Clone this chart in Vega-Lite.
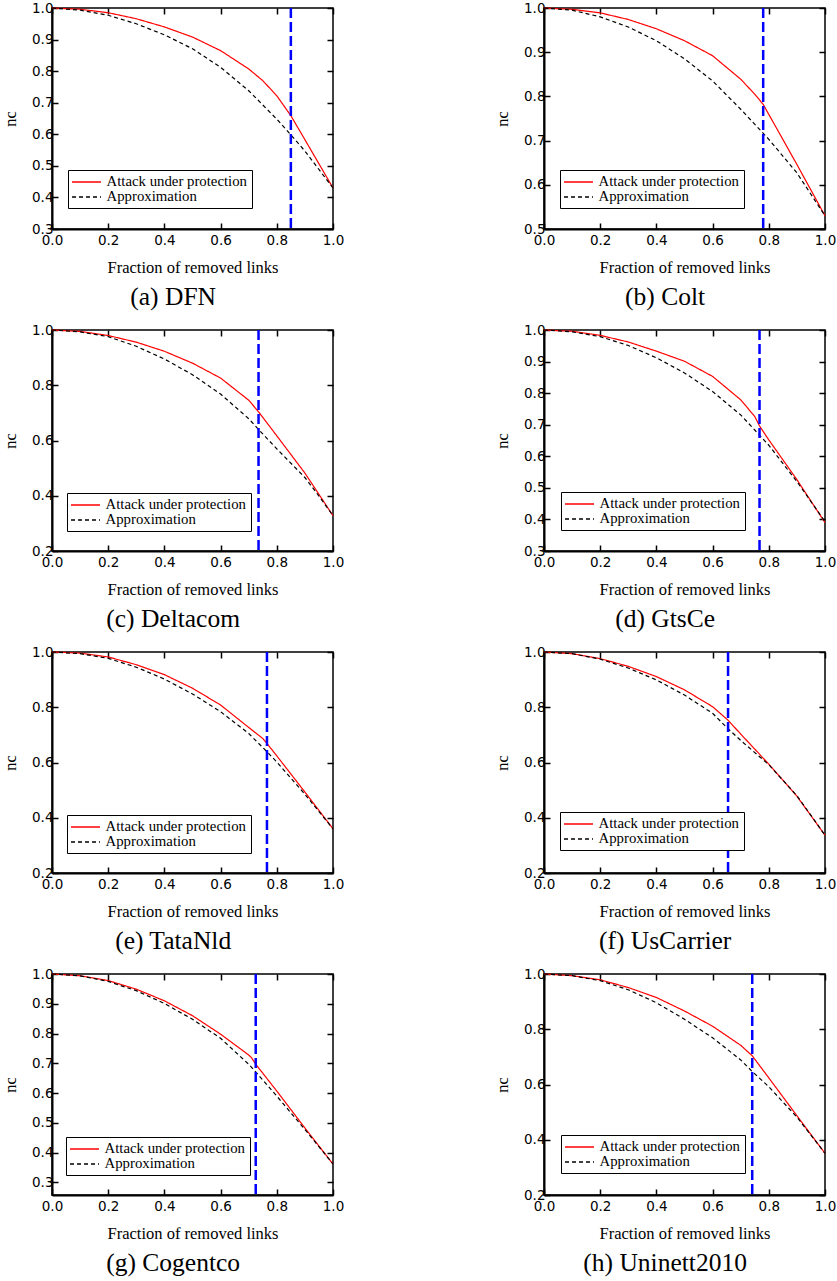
{
  "$schema": "https://vega.github.io/schema/vega-lite/v6.json",
  "padding": {"left": 1, "top": 0, "right": 0, "bottom": 0},
  "background": "white",
  "datasets": {
    "curves": [
      {"panel":"a","series":"Attack under protection","x":0,"y":1.0},
      {"panel":"a","series":"Attack under protection","x":0.1,"y":0.996},
      {"panel":"a","series":"Attack under protection","x":0.2,"y":0.985},
      {"panel":"a","series":"Attack under protection","x":0.3,"y":0.966},
      {"panel":"a","series":"Attack under protection","x":0.4,"y":0.94},
      {"panel":"a","series":"Attack under protection","x":0.5,"y":0.908},
      {"panel":"a","series":"Attack under protection","x":0.6,"y":0.865},
      {"panel":"a","series":"Attack under protection","x":0.7,"y":0.807},
      {"panel":"a","series":"Attack under protection","x":0.75,"y":0.77},
      {"panel":"a","series":"Attack under protection","x":0.8,"y":0.722},
      {"panel":"a","series":"Attack under protection","x":0.85,"y":0.659},
      {"panel":"a","series":"Attack under protection","x":0.9,"y":0.583},
      {"panel":"a","series":"Attack under protection","x":1.0,"y":0.43},
      {"panel":"a","series":"Approximation","x":0,"y":1.0},
      {"panel":"a","series":"Approximation","x":0.1,"y":0.993},
      {"panel":"a","series":"Approximation","x":0.2,"y":0.977},
      {"panel":"a","series":"Approximation","x":0.3,"y":0.95},
      {"panel":"a","series":"Approximation","x":0.4,"y":0.915},
      {"panel":"a","series":"Approximation","x":0.5,"y":0.871},
      {"panel":"a","series":"Approximation","x":0.6,"y":0.812},
      {"panel":"a","series":"Approximation","x":0.7,"y":0.738},
      {"panel":"a","series":"Approximation","x":0.8,"y":0.648},
      {"panel":"a","series":"Approximation","x":0.85,"y":0.598},
      {"panel":"a","series":"Approximation","x":0.9,"y":0.547},
      {"panel":"a","series":"Approximation","x":1.0,"y":0.43},

      {"panel":"b","series":"Attack under protection","x":0,"y":1.0},
      {"panel":"b","series":"Attack under protection","x":0.1,"y":0.997},
      {"panel":"b","series":"Attack under protection","x":0.2,"y":0.989},
      {"panel":"b","series":"Attack under protection","x":0.3,"y":0.974},
      {"panel":"b","series":"Attack under protection","x":0.4,"y":0.953},
      {"panel":"b","series":"Attack under protection","x":0.5,"y":0.926},
      {"panel":"b","series":"Attack under protection","x":0.6,"y":0.892},
      {"panel":"b","series":"Attack under protection","x":0.7,"y":0.839},
      {"panel":"b","series":"Attack under protection","x":0.75,"y":0.805},
      {"panel":"b","series":"Attack under protection","x":0.78,"y":0.782},
      {"panel":"b","series":"Attack under protection","x":0.9,"y":0.646},
      {"panel":"b","series":"Attack under protection","x":1.0,"y":0.53},
      {"panel":"b","series":"Approximation","x":0,"y":1.0},
      {"panel":"b","series":"Approximation","x":0.1,"y":0.995},
      {"panel":"b","series":"Approximation","x":0.2,"y":0.98},
      {"panel":"b","series":"Approximation","x":0.3,"y":0.957},
      {"panel":"b","series":"Approximation","x":0.4,"y":0.926},
      {"panel":"b","series":"Approximation","x":0.5,"y":0.885},
      {"panel":"b","series":"Approximation","x":0.6,"y":0.835},
      {"panel":"b","series":"Approximation","x":0.7,"y":0.771},
      {"panel":"b","series":"Approximation","x":0.8,"y":0.703},
      {"panel":"b","series":"Approximation","x":0.9,"y":0.627},
      {"panel":"b","series":"Approximation","x":1.0,"y":0.53},

      {"panel":"c","series":"Attack under protection","x":0,"y":1.0},
      {"panel":"c","series":"Attack under protection","x":0.1,"y":0.995},
      {"panel":"c","series":"Attack under protection","x":0.2,"y":0.98},
      {"panel":"c","series":"Attack under protection","x":0.3,"y":0.956},
      {"panel":"c","series":"Attack under protection","x":0.4,"y":0.923},
      {"panel":"c","series":"Attack under protection","x":0.5,"y":0.88},
      {"panel":"c","series":"Attack under protection","x":0.6,"y":0.826},
      {"panel":"c","series":"Attack under protection","x":0.7,"y":0.746},
      {"panel":"c","series":"Attack under protection","x":0.735,"y":0.704},
      {"panel":"c","series":"Attack under protection","x":0.8,"y":0.617},
      {"panel":"c","series":"Attack under protection","x":0.9,"y":0.482},
      {"panel":"c","series":"Attack under protection","x":0.95,"y":0.405},
      {"panel":"c","series":"Attack under protection","x":1.0,"y":0.328},
      {"panel":"c","series":"Approximation","x":0,"y":1.0},
      {"panel":"c","series":"Approximation","x":0.1,"y":0.993},
      {"panel":"c","series":"Approximation","x":0.2,"y":0.976},
      {"panel":"c","series":"Approximation","x":0.3,"y":0.941},
      {"panel":"c","series":"Approximation","x":0.4,"y":0.895},
      {"panel":"c","series":"Approximation","x":0.5,"y":0.838},
      {"panel":"c","series":"Approximation","x":0.6,"y":0.768},
      {"panel":"c","series":"Approximation","x":0.7,"y":0.679},
      {"panel":"c","series":"Approximation","x":0.735,"y":0.64},
      {"panel":"c","series":"Approximation","x":0.8,"y":0.57},
      {"panel":"c","series":"Approximation","x":0.9,"y":0.466},
      {"panel":"c","series":"Approximation","x":0.95,"y":0.399},
      {"panel":"c","series":"Approximation","x":1.0,"y":0.328},

      {"panel":"d","series":"Attack under protection","x":0,"y":1.0},
      {"panel":"d","series":"Attack under protection","x":0.1,"y":0.996},
      {"panel":"d","series":"Attack under protection","x":0.2,"y":0.983},
      {"panel":"d","series":"Attack under protection","x":0.3,"y":0.962},
      {"panel":"d","series":"Attack under protection","x":0.4,"y":0.933},
      {"panel":"d","series":"Attack under protection","x":0.5,"y":0.901},
      {"panel":"d","series":"Attack under protection","x":0.6,"y":0.853},
      {"panel":"d","series":"Attack under protection","x":0.7,"y":0.779},
      {"panel":"d","series":"Attack under protection","x":0.75,"y":0.726},
      {"panel":"d","series":"Attack under protection","x":0.767,"y":0.696},
      {"panel":"d","series":"Attack under protection","x":0.8,"y":0.652},
      {"panel":"d","series":"Attack under protection","x":0.9,"y":0.526},
      {"panel":"d","series":"Attack under protection","x":1.0,"y":0.39},
      {"panel":"d","series":"Approximation","x":0,"y":1.0},
      {"panel":"d","series":"Approximation","x":0.1,"y":0.994},
      {"panel":"d","series":"Approximation","x":0.2,"y":0.979},
      {"panel":"d","series":"Approximation","x":0.3,"y":0.951},
      {"panel":"d","series":"Approximation","x":0.4,"y":0.912},
      {"panel":"d","series":"Approximation","x":0.5,"y":0.864},
      {"panel":"d","series":"Approximation","x":0.6,"y":0.805},
      {"panel":"d","series":"Approximation","x":0.7,"y":0.731},
      {"panel":"d","series":"Approximation","x":0.767,"y":0.667},
      {"panel":"d","series":"Approximation","x":0.8,"y":0.635},
      {"panel":"d","series":"Approximation","x":0.9,"y":0.52},
      {"panel":"d","series":"Approximation","x":1.0,"y":0.393},

      {"panel":"e","series":"Attack under protection","x":0,"y":1.0},
      {"panel":"e","series":"Attack under protection","x":0.1,"y":0.996},
      {"panel":"e","series":"Attack under protection","x":0.2,"y":0.982},
      {"panel":"e","series":"Attack under protection","x":0.3,"y":0.954},
      {"panel":"e","series":"Attack under protection","x":0.4,"y":0.918},
      {"panel":"e","series":"Attack under protection","x":0.5,"y":0.869},
      {"panel":"e","series":"Attack under protection","x":0.6,"y":0.808},
      {"panel":"e","series":"Attack under protection","x":0.7,"y":0.727},
      {"panel":"e","series":"Attack under protection","x":0.75,"y":0.687},
      {"panel":"e","series":"Attack under protection","x":0.765,"y":0.669},
      {"panel":"e","series":"Attack under protection","x":0.8,"y":0.624},
      {"panel":"e","series":"Attack under protection","x":0.9,"y":0.493},
      {"panel":"e","series":"Attack under protection","x":1.0,"y":0.36},
      {"panel":"e","series":"Approximation","x":0,"y":1.0},
      {"panel":"e","series":"Approximation","x":0.1,"y":0.994},
      {"panel":"e","series":"Approximation","x":0.2,"y":0.977},
      {"panel":"e","series":"Approximation","x":0.3,"y":0.945},
      {"panel":"e","series":"Approximation","x":0.4,"y":0.902},
      {"panel":"e","series":"Approximation","x":0.5,"y":0.848},
      {"panel":"e","series":"Approximation","x":0.6,"y":0.784},
      {"panel":"e","series":"Approximation","x":0.7,"y":0.705},
      {"panel":"e","series":"Approximation","x":0.765,"y":0.639},
      {"panel":"e","series":"Approximation","x":0.8,"y":0.602},
      {"panel":"e","series":"Approximation","x":0.9,"y":0.485},
      {"panel":"e","series":"Approximation","x":1.0,"y":0.36},

      {"panel":"f","series":"Attack under protection","x":0,"y":1.0},
      {"panel":"f","series":"Attack under protection","x":0.1,"y":0.994},
      {"panel":"f","series":"Attack under protection","x":0.2,"y":0.976},
      {"panel":"f","series":"Attack under protection","x":0.3,"y":0.948},
      {"panel":"f","series":"Attack under protection","x":0.4,"y":0.911},
      {"panel":"f","series":"Attack under protection","x":0.5,"y":0.863},
      {"panel":"f","series":"Attack under protection","x":0.6,"y":0.802},
      {"panel":"f","series":"Attack under protection","x":0.655,"y":0.753},
      {"panel":"f","series":"Attack under protection","x":0.7,"y":0.703},
      {"panel":"f","series":"Attack under protection","x":0.8,"y":0.594},
      {"panel":"f","series":"Attack under protection","x":0.9,"y":0.478},
      {"panel":"f","series":"Attack under protection","x":1.0,"y":0.337},
      {"panel":"f","series":"Approximation","x":0,"y":1.0},
      {"panel":"f","series":"Approximation","x":0.1,"y":0.994},
      {"panel":"f","series":"Approximation","x":0.2,"y":0.974},
      {"panel":"f","series":"Approximation","x":0.3,"y":0.942},
      {"panel":"f","series":"Approximation","x":0.4,"y":0.899},
      {"panel":"f","series":"Approximation","x":0.5,"y":0.844},
      {"panel":"f","series":"Approximation","x":0.6,"y":0.778},
      {"panel":"f","series":"Approximation","x":0.655,"y":0.722},
      {"panel":"f","series":"Approximation","x":0.7,"y":0.68},
      {"panel":"f","series":"Approximation","x":0.8,"y":0.592},
      {"panel":"f","series":"Approximation","x":0.9,"y":0.48},
      {"panel":"f","series":"Approximation","x":1.0,"y":0.337},

      {"panel":"g","series":"Attack under protection","x":0,"y":1.0},
      {"panel":"g","series":"Attack under protection","x":0.1,"y":0.994},
      {"panel":"g","series":"Attack under protection","x":0.2,"y":0.978},
      {"panel":"g","series":"Attack under protection","x":0.3,"y":0.949},
      {"panel":"g","series":"Attack under protection","x":0.4,"y":0.91},
      {"panel":"g","series":"Attack under protection","x":0.5,"y":0.86},
      {"panel":"g","series":"Attack under protection","x":0.6,"y":0.798},
      {"panel":"g","series":"Attack under protection","x":0.7,"y":0.728},
      {"panel":"g","series":"Attack under protection","x":0.71,"y":0.719},
      {"panel":"g","series":"Attack under protection","x":0.725,"y":0.697},
      {"panel":"g","series":"Attack under protection","x":0.8,"y":0.607},
      {"panel":"g","series":"Attack under protection","x":0.9,"y":0.483},
      {"panel":"g","series":"Attack under protection","x":1.0,"y":0.362},
      {"panel":"g","series":"Approximation","x":0,"y":1.0},
      {"panel":"g","series":"Approximation","x":0.1,"y":0.994},
      {"panel":"g","series":"Approximation","x":0.2,"y":0.975},
      {"panel":"g","series":"Approximation","x":0.3,"y":0.944},
      {"panel":"g","series":"Approximation","x":0.4,"y":0.901},
      {"panel":"g","series":"Approximation","x":0.5,"y":0.848},
      {"panel":"g","series":"Approximation","x":0.6,"y":0.784},
      {"panel":"g","series":"Approximation","x":0.7,"y":0.697},
      {"panel":"g","series":"Approximation","x":0.725,"y":0.671},
      {"panel":"g","series":"Approximation","x":0.8,"y":0.59},
      {"panel":"g","series":"Approximation","x":0.9,"y":0.478},
      {"panel":"g","series":"Approximation","x":1.0,"y":0.362},

      {"panel":"h","series":"Attack under protection","x":0,"y":1.0},
      {"panel":"h","series":"Attack under protection","x":0.1,"y":0.994},
      {"panel":"h","series":"Attack under protection","x":0.2,"y":0.979},
      {"panel":"h","series":"Attack under protection","x":0.3,"y":0.951},
      {"panel":"h","series":"Attack under protection","x":0.4,"y":0.915},
      {"panel":"h","series":"Attack under protection","x":0.5,"y":0.866},
      {"panel":"h","series":"Attack under protection","x":0.6,"y":0.811},
      {"panel":"h","series":"Attack under protection","x":0.7,"y":0.742},
      {"panel":"h","series":"Attack under protection","x":0.741,"y":0.704},
      {"panel":"h","series":"Attack under protection","x":0.8,"y":0.624},
      {"panel":"h","series":"Attack under protection","x":0.9,"y":0.487},
      {"panel":"h","series":"Attack under protection","x":1.0,"y":0.351},
      {"panel":"h","series":"Approximation","x":0,"y":1.0},
      {"panel":"h","series":"Approximation","x":0.1,"y":0.994},
      {"panel":"h","series":"Approximation","x":0.2,"y":0.976},
      {"panel":"h","series":"Approximation","x":0.3,"y":0.943},
      {"panel":"h","series":"Approximation","x":0.4,"y":0.896},
      {"panel":"h","series":"Approximation","x":0.5,"y":0.836},
      {"panel":"h","series":"Approximation","x":0.6,"y":0.769},
      {"panel":"h","series":"Approximation","x":0.7,"y":0.689},
      {"panel":"h","series":"Approximation","x":0.741,"y":0.647},
      {"panel":"h","series":"Approximation","x":0.8,"y":0.592},
      {"panel":"h","series":"Approximation","x":0.9,"y":0.482},
      {"panel":"h","series":"Approximation","x":1.0,"y":0.351}
    ],
    "thresholds": [
      {"panel":"a","x":0.85},
      {"panel":"b","x":0.78},
      {"panel":"c","x":0.735},
      {"panel":"d","x":0.767},
      {"panel":"e","x":0.765},
      {"panel":"f","x":0.655},
      {"panel":"g","x":0.725},
      {"panel":"h","x":0.741}
    ]
  },
  "config": {
    "view": {"stroke": "#000000", "strokeWidth": 1.5},
    "axis": {
      "grid": false,
      "labelFont": "DejaVu Sans",
      "labelFontSize": 13.5,
      "labelColor": "#000000",
      "labelFlush": false,
      "labelOverlap": false,
      "labelPadding": 10,
      "tickColor": "#000000",
      "tickSize": -6,
      "tickWidth": 1.5,
      "domainColor": "#000000",
      "domainWidth": 2,
      "titleFont": "Liberation Serif",
      "titleFontSize": 16.5,
      "titleFontWeight": "normal",
      "titleColor": "#000000",
      "titlePadding": 13
    },
    "axisY": {"titlePadding": 13, "labelPadding": 5},
    "title": {
      "orient": "bottom",
      "anchor": "middle",
      "frame": "bounds",
      "font": "Liberation Serif",
      "fontSize": 25.5,
      "fontWeight": "normal",
      "color": "#000000",
      "offset": 9
    },
    "legend": {
      "strokeColor": "#000000",
      "fillColor": "#ffffff",
      "padding": 4,
      "labelFont": "Liberation Serif",
      "labelFontSize": 14.8,
      "labelColor": "#000000",
      "labelOffset": 12,
      "symbolType": "M-2.07,0H2.07",
      "symbolSize": 196,
      "symbolOffset": 6.5,
      "symbolStrokeWidth": 1.3,
      "rowPadding": 0
    }
  },
  "resolve": {"scale": {"x": "independent", "y": "independent", "color": "independent", "strokeDash": "independent"}, "legend": {"color": "independent", "strokeDash": "independent"}, "axis": {"x": "independent", "y": "independent"}},
  "spacing": 10,
  "vconcat": [
    {
      "spacing": 148,
      "resolve": {"scale": {"x": "independent", "y": "independent", "color": "independent", "strokeDash": "independent"}, "legend": {"color": "independent", "strokeDash": "independent"}, "axis": {"x": "independent", "y": "independent"}},
      "hconcat": [
        {
          "width": 281, "height": 221,
          "title": {"text": "(a) DFN"},
          "resolve": {"axis": {"x": "independent", "y": "independent"}},
          "layer": [
            {
              "data": {"name": "curves"},
              "transform": [{"filter": "datum.panel === 'a'"}],
              "mark": {"type": "line", "strokeWidth": 1.2},
              "encoding": {
                "x": {"field": "x", "type": "quantitative", "scale": {"domain": [0, 1], "nice": false}, "axis": {"orient": "bottom", "values": [0, 0.2, 0.4, 0.6, 0.8, 1], "format": ".1f", "title": "Fraction of removed links"}},
                "y": {"field": "y", "type": "quantitative", "scale": {"domain": [0.3, 1], "nice": false, "zero": false}, "axis": {"values": [0.3, 0.4, 0.5, 0.6, 0.7, 0.8, 0.9, 1.0], "format": ".1f", "title": "nc"}},
                "color": {"field": "series", "type": "nominal", "scale": {"domain": ["Attack under protection", "Approximation"], "range": ["#ff0000", "#000000"]}, "legend": {"title": null, "orient": "none", "legendX": 16, "legendY": 162}},
                "strokeDash": {"field": "series", "type": "nominal", "scale": {"domain": ["Attack under protection", "Approximation"], "range": [[1, 0], [4, 3]]}, "legend": {"title": null, "orient": "none", "legendX": 16, "legendY": 162}}
              }
            },
            {
              "data": {"name": "thresholds"},
              "transform": [{"filter": "datum.panel === 'a'"}],
              "mark": {"type": "rule", "color": "#0000ff", "strokeWidth": 2.5, "strokeDash": [10, 4]},
              "encoding": {"x": {"field": "x", "type": "quantitative", "axis": null}}
            },
            {
              "data": {"name": "curves"},
              "transform": [{"filter": "datum.panel === 'a'"}],
              "mark": {"type": "point", "opacity": 0},
              "encoding": {
                "x": {"field": "x", "type": "quantitative", "axis": {"orient": "top", "values": [0, 0.2, 0.4, 0.6, 0.8, 1], "labels": false, "title": null, "domain": false}},
                "y": {"field": "y", "type": "quantitative", "axis": {"orient": "right", "values": [0.3, 0.4, 0.5, 0.6, 0.7, 0.8, 0.9, 1.0], "labels": false, "title": null, "domain": false}}
              }
            }
          ]
        },
        {
          "width": 281, "height": 221,
          "title": {"text": "(b) Colt"},
          "resolve": {"axis": {"x": "independent", "y": "independent"}},
          "layer": [
            {
              "data": {"name": "curves"},
              "transform": [{"filter": "datum.panel === 'b'"}],
              "mark": {"type": "line", "strokeWidth": 1.2},
              "encoding": {
                "x": {"field": "x", "type": "quantitative", "scale": {"domain": [0, 1], "nice": false}, "axis": {"orient": "bottom", "values": [0, 0.2, 0.4, 0.6, 0.8, 1], "format": ".1f", "title": "Fraction of removed links"}},
                "y": {"field": "y", "type": "quantitative", "scale": {"domain": [0.5, 1], "nice": false, "zero": false}, "axis": {"values": [0.5, 0.6, 0.7, 0.8, 0.9, 1.0], "format": ".1f", "title": "nc"}},
                "color": {"field": "series", "type": "nominal", "scale": {"domain": ["Attack under protection", "Approximation"], "range": ["#ff0000", "#000000"]}, "legend": {"title": null, "orient": "none", "legendX": 16, "legendY": 162}},
                "strokeDash": {"field": "series", "type": "nominal", "scale": {"domain": ["Attack under protection", "Approximation"], "range": [[1, 0], [4, 3]]}, "legend": {"title": null, "orient": "none", "legendX": 16, "legendY": 162}}
              }
            },
            {
              "data": {"name": "thresholds"},
              "transform": [{"filter": "datum.panel === 'b'"}],
              "mark": {"type": "rule", "color": "#0000ff", "strokeWidth": 2.5, "strokeDash": [10, 4]},
              "encoding": {"x": {"field": "x", "type": "quantitative", "axis": null}}
            },
            {
              "data": {"name": "curves"},
              "transform": [{"filter": "datum.panel === 'b'"}],
              "mark": {"type": "point", "opacity": 0},
              "encoding": {
                "x": {"field": "x", "type": "quantitative", "axis": {"orient": "top", "values": [0, 0.2, 0.4, 0.6, 0.8, 1], "labels": false, "title": null, "domain": false}},
                "y": {"field": "y", "type": "quantitative", "axis": {"orient": "right", "values": [0.5, 0.6, 0.7, 0.8, 0.9, 1.0], "labels": false, "title": null, "domain": false}}
              }
            }
          ]
        }
      ]
    },
    {
      "spacing": 148,
      "resolve": {"scale": {"x": "independent", "y": "independent", "color": "independent", "strokeDash": "independent"}, "legend": {"color": "independent", "strokeDash": "independent"}, "axis": {"x": "independent", "y": "independent"}},
      "hconcat": [
        {
          "width": 281, "height": 221,
          "title": {"text": "(c) Deltacom"},
          "resolve": {"axis": {"x": "independent", "y": "independent"}},
          "layer": [
            {
              "data": {"name": "curves"},
              "transform": [{"filter": "datum.panel === 'c'"}],
              "mark": {"type": "line", "strokeWidth": 1.2},
              "encoding": {
                "x": {"field": "x", "type": "quantitative", "scale": {"domain": [0, 1], "nice": false}, "axis": {"orient": "bottom", "values": [0, 0.2, 0.4, 0.6, 0.8, 1], "format": ".1f", "title": "Fraction of removed links"}},
                "y": {"field": "y", "type": "quantitative", "scale": {"domain": [0.2, 1], "nice": false, "zero": false}, "axis": {"values": [0.2, 0.4, 0.6, 0.8, 1.0], "format": ".1f", "title": "nc"}},
                "color": {"field": "series", "type": "nominal", "scale": {"domain": ["Attack under protection", "Approximation"], "range": ["#ff0000", "#000000"]}, "legend": {"title": null, "orient": "none", "legendX": 15, "legendY": 163}},
                "strokeDash": {"field": "series", "type": "nominal", "scale": {"domain": ["Attack under protection", "Approximation"], "range": [[1, 0], [4, 3]]}, "legend": {"title": null, "orient": "none", "legendX": 15, "legendY": 163}}
              }
            },
            {
              "data": {"name": "thresholds"},
              "transform": [{"filter": "datum.panel === 'c'"}],
              "mark": {"type": "rule", "color": "#0000ff", "strokeWidth": 2.5, "strokeDash": [10, 4]},
              "encoding": {"x": {"field": "x", "type": "quantitative", "axis": null}}
            },
            {
              "data": {"name": "curves"},
              "transform": [{"filter": "datum.panel === 'c'"}],
              "mark": {"type": "point", "opacity": 0},
              "encoding": {
                "x": {"field": "x", "type": "quantitative", "axis": {"orient": "top", "values": [0, 0.2, 0.4, 0.6, 0.8, 1], "labels": false, "title": null, "domain": false}},
                "y": {"field": "y", "type": "quantitative", "axis": {"orient": "right", "values": [0.2, 0.4, 0.6, 0.8, 1.0], "labels": false, "title": null, "domain": false}}
              }
            }
          ]
        },
        {
          "width": 281, "height": 221,
          "title": {"text": "(d) GtsCe"},
          "resolve": {"axis": {"x": "independent", "y": "independent"}},
          "layer": [
            {
              "data": {"name": "curves"},
              "transform": [{"filter": "datum.panel === 'd'"}],
              "mark": {"type": "line", "strokeWidth": 1.2},
              "encoding": {
                "x": {"field": "x", "type": "quantitative", "scale": {"domain": [0, 1], "nice": false}, "axis": {"orient": "bottom", "values": [0, 0.2, 0.4, 0.6, 0.8, 1], "format": ".1f", "title": "Fraction of removed links"}},
                "y": {"field": "y", "type": "quantitative", "scale": {"domain": [0.3, 1], "nice": false, "zero": false}, "axis": {"values": [0.3, 0.4, 0.5, 0.6, 0.7, 0.8, 0.9, 1.0], "format": ".1f", "title": "nc"}},
                "color": {"field": "series", "type": "nominal", "scale": {"domain": ["Attack under protection", "Approximation"], "range": ["#ff0000", "#000000"]}, "legend": {"title": null, "orient": "none", "legendX": 17, "legendY": 162}},
                "strokeDash": {"field": "series", "type": "nominal", "scale": {"domain": ["Attack under protection", "Approximation"], "range": [[1, 0], [4, 3]]}, "legend": {"title": null, "orient": "none", "legendX": 17, "legendY": 162}}
              }
            },
            {
              "data": {"name": "thresholds"},
              "transform": [{"filter": "datum.panel === 'd'"}],
              "mark": {"type": "rule", "color": "#0000ff", "strokeWidth": 2.5, "strokeDash": [10, 4]},
              "encoding": {"x": {"field": "x", "type": "quantitative", "axis": null}}
            },
            {
              "data": {"name": "curves"},
              "transform": [{"filter": "datum.panel === 'd'"}],
              "mark": {"type": "point", "opacity": 0},
              "encoding": {
                "x": {"field": "x", "type": "quantitative", "axis": {"orient": "top", "values": [0, 0.2, 0.4, 0.6, 0.8, 1], "labels": false, "title": null, "domain": false}},
                "y": {"field": "y", "type": "quantitative", "axis": {"orient": "right", "values": [0.3, 0.4, 0.5, 0.6, 0.7, 0.8, 0.9, 1.0], "labels": false, "title": null, "domain": false}}
              }
            }
          ]
        }
      ]
    },
    {
      "spacing": 148,
      "resolve": {"scale": {"x": "independent", "y": "independent", "color": "independent", "strokeDash": "independent"}, "legend": {"color": "independent", "strokeDash": "independent"}, "axis": {"x": "independent", "y": "independent"}},
      "hconcat": [
        {
          "width": 281, "height": 221,
          "title": {"text": "(e) TataNld"},
          "resolve": {"axis": {"x": "independent", "y": "independent"}},
          "layer": [
            {
              "data": {"name": "curves"},
              "transform": [{"filter": "datum.panel === 'e'"}],
              "mark": {"type": "line", "strokeWidth": 1.2},
              "encoding": {
                "x": {"field": "x", "type": "quantitative", "scale": {"domain": [0, 1], "nice": false}, "axis": {"orient": "bottom", "values": [0, 0.2, 0.4, 0.6, 0.8, 1], "format": ".1f", "title": "Fraction of removed links"}},
                "y": {"field": "y", "type": "quantitative", "scale": {"domain": [0.2, 1], "nice": false, "zero": false}, "axis": {"values": [0.2, 0.4, 0.6, 0.8, 1.0], "format": ".1f", "title": "nc"}},
                "color": {"field": "series", "type": "nominal", "scale": {"domain": ["Attack under protection", "Approximation"], "range": ["#ff0000", "#000000"]}, "legend": {"title": null, "orient": "none", "legendX": 15, "legendY": 163}},
                "strokeDash": {"field": "series", "type": "nominal", "scale": {"domain": ["Attack under protection", "Approximation"], "range": [[1, 0], [4, 3]]}, "legend": {"title": null, "orient": "none", "legendX": 15, "legendY": 163}}
              }
            },
            {
              "data": {"name": "thresholds"},
              "transform": [{"filter": "datum.panel === 'e'"}],
              "mark": {"type": "rule", "color": "#0000ff", "strokeWidth": 2.5, "strokeDash": [10, 4]},
              "encoding": {"x": {"field": "x", "type": "quantitative", "axis": null}}
            },
            {
              "data": {"name": "curves"},
              "transform": [{"filter": "datum.panel === 'e'"}],
              "mark": {"type": "point", "opacity": 0},
              "encoding": {
                "x": {"field": "x", "type": "quantitative", "axis": {"orient": "top", "values": [0, 0.2, 0.4, 0.6, 0.8, 1], "labels": false, "title": null, "domain": false}},
                "y": {"field": "y", "type": "quantitative", "axis": {"orient": "right", "values": [0.2, 0.4, 0.6, 0.8, 1.0], "labels": false, "title": null, "domain": false}}
              }
            }
          ]
        },
        {
          "width": 281, "height": 221,
          "title": {"text": "(f) UsCarrier"},
          "resolve": {"axis": {"x": "independent", "y": "independent"}},
          "layer": [
            {
              "data": {"name": "curves"},
              "transform": [{"filter": "datum.panel === 'f'"}],
              "mark": {"type": "line", "strokeWidth": 1.2},
              "encoding": {
                "x": {"field": "x", "type": "quantitative", "scale": {"domain": [0, 1], "nice": false}, "axis": {"orient": "bottom", "values": [0, 0.2, 0.4, 0.6, 0.8, 1], "format": ".1f", "title": "Fraction of removed links"}},
                "y": {"field": "y", "type": "quantitative", "scale": {"domain": [0.2, 1], "nice": false, "zero": false}, "axis": {"values": [0.2, 0.4, 0.6, 0.8, 1.0], "format": ".1f", "title": "nc"}},
                "color": {"field": "series", "type": "nominal", "scale": {"domain": ["Attack under protection", "Approximation"], "range": ["#ff0000", "#000000"]}, "legend": {"title": null, "orient": "none", "legendX": 16, "legendY": 160}},
                "strokeDash": {"field": "series", "type": "nominal", "scale": {"domain": ["Attack under protection", "Approximation"], "range": [[1, 0], [4, 3]]}, "legend": {"title": null, "orient": "none", "legendX": 16, "legendY": 160}}
              }
            },
            {
              "data": {"name": "thresholds"},
              "transform": [{"filter": "datum.panel === 'f'"}],
              "mark": {"type": "rule", "color": "#0000ff", "strokeWidth": 2.5, "strokeDash": [10, 4]},
              "encoding": {"x": {"field": "x", "type": "quantitative", "axis": null}}
            },
            {
              "data": {"name": "curves"},
              "transform": [{"filter": "datum.panel === 'f'"}],
              "mark": {"type": "point", "opacity": 0},
              "encoding": {
                "x": {"field": "x", "type": "quantitative", "axis": {"orient": "top", "values": [0, 0.2, 0.4, 0.6, 0.8, 1], "labels": false, "title": null, "domain": false}},
                "y": {"field": "y", "type": "quantitative", "axis": {"orient": "right", "values": [0.2, 0.4, 0.6, 0.8, 1.0], "labels": false, "title": null, "domain": false}}
              }
            }
          ]
        }
      ]
    },
    {
      "spacing": 148,
      "resolve": {"scale": {"x": "independent", "y": "independent", "color": "independent", "strokeDash": "independent"}, "legend": {"color": "independent", "strokeDash": "independent"}, "axis": {"x": "independent", "y": "independent"}},
      "hconcat": [
        {
          "width": 281, "height": 221,
          "title": {"text": "(g) Cogentco"},
          "resolve": {"axis": {"x": "independent", "y": "independent"}},
          "layer": [
            {
              "data": {"name": "curves"},
              "transform": [{"filter": "datum.panel === 'g'"}],
              "mark": {"type": "line", "strokeWidth": 1.2},
              "encoding": {
                "x": {"field": "x", "type": "quantitative", "scale": {"domain": [0, 1], "nice": false}, "axis": {"orient": "bottom", "values": [0, 0.2, 0.4, 0.6, 0.8, 1], "format": ".1f", "title": "Fraction of removed links"}},
                "y": {"field": "y", "type": "quantitative", "scale": {"domain": [0.258, 1], "nice": false, "zero": false}, "axis": {"values": [0.3, 0.4, 0.5, 0.6, 0.7, 0.8, 0.9, 1.0], "format": ".1f", "title": "nc"}},
                "color": {"field": "series", "type": "nominal", "scale": {"domain": ["Attack under protection", "Approximation"], "range": ["#ff0000", "#000000"]}, "legend": {"title": null, "orient": "none", "legendX": 14, "legendY": 163}},
                "strokeDash": {"field": "series", "type": "nominal", "scale": {"domain": ["Attack under protection", "Approximation"], "range": [[1, 0], [4, 3]]}, "legend": {"title": null, "orient": "none", "legendX": 14, "legendY": 163}}
              }
            },
            {
              "data": {"name": "thresholds"},
              "transform": [{"filter": "datum.panel === 'g'"}],
              "mark": {"type": "rule", "color": "#0000ff", "strokeWidth": 2.5, "strokeDash": [10, 4]},
              "encoding": {"x": {"field": "x", "type": "quantitative", "axis": null}}
            },
            {
              "data": {"name": "curves"},
              "transform": [{"filter": "datum.panel === 'g'"}],
              "mark": {"type": "point", "opacity": 0},
              "encoding": {
                "x": {"field": "x", "type": "quantitative", "axis": {"orient": "top", "values": [0, 0.2, 0.4, 0.6, 0.8, 1], "labels": false, "title": null, "domain": false}},
                "y": {"field": "y", "type": "quantitative", "axis": {"orient": "right", "values": [0.3, 0.4, 0.5, 0.6, 0.7, 0.8, 0.9, 1.0], "labels": false, "title": null, "domain": false}}
              }
            }
          ]
        },
        {
          "width": 281, "height": 221,
          "title": {"text": "(h) Uninett2010"},
          "resolve": {"axis": {"x": "independent", "y": "independent"}},
          "layer": [
            {
              "data": {"name": "curves"},
              "transform": [{"filter": "datum.panel === 'h'"}],
              "mark": {"type": "line", "strokeWidth": 1.2},
              "encoding": {
                "x": {"field": "x", "type": "quantitative", "scale": {"domain": [0, 1], "nice": false}, "axis": {"orient": "bottom", "values": [0, 0.2, 0.4, 0.6, 0.8, 1], "format": ".1f", "title": "Fraction of removed links"}},
                "y": {"field": "y", "type": "quantitative", "scale": {"domain": [0.2, 1], "nice": false, "zero": false}, "axis": {"values": [0.2, 0.4, 0.6, 0.8, 1.0], "format": ".1f", "title": "nc"}},
                "color": {"field": "series", "type": "nominal", "scale": {"domain": ["Attack under protection", "Approximation"], "range": ["#ff0000", "#000000"]}, "legend": {"title": null, "orient": "none", "legendX": 17, "legendY": 161}},
                "strokeDash": {"field": "series", "type": "nominal", "scale": {"domain": ["Attack under protection", "Approximation"], "range": [[1, 0], [4, 3]]}, "legend": {"title": null, "orient": "none", "legendX": 17, "legendY": 161}}
              }
            },
            {
              "data": {"name": "thresholds"},
              "transform": [{"filter": "datum.panel === 'h'"}],
              "mark": {"type": "rule", "color": "#0000ff", "strokeWidth": 2.5, "strokeDash": [10, 4]},
              "encoding": {"x": {"field": "x", "type": "quantitative", "axis": null}}
            },
            {
              "data": {"name": "curves"},
              "transform": [{"filter": "datum.panel === 'h'"}],
              "mark": {"type": "point", "opacity": 0},
              "encoding": {
                "x": {"field": "x", "type": "quantitative", "axis": {"orient": "top", "values": [0, 0.2, 0.4, 0.6, 0.8, 1], "labels": false, "title": null, "domain": false}},
                "y": {"field": "y", "type": "quantitative", "axis": {"orient": "right", "values": [0.2, 0.4, 0.6, 0.8, 1.0], "labels": false, "title": null, "domain": false}}
              }
            }
          ]
        }
      ]
    }
  ]
}
